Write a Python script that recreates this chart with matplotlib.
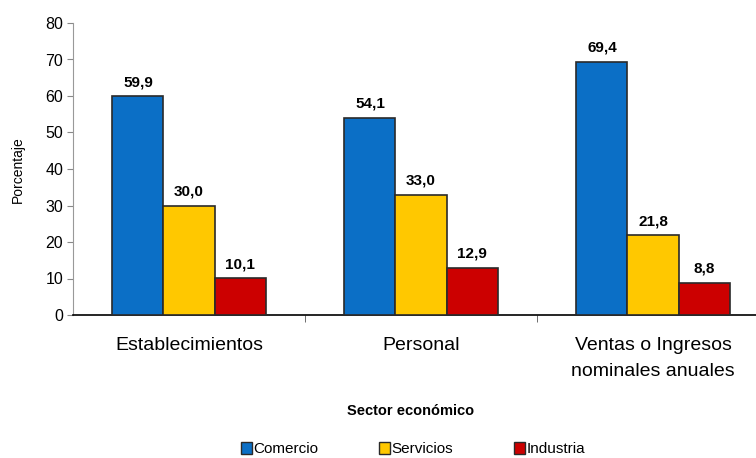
import numpy as np
import matplotlib.pyplot as plt
from matplotlib.patches import Patch

plt.rcParams['font.family'] = ['Liberation Sans', 'DejaVu Sans']

categorias = ["Establecimientos", "Personal", "Ventas o Ingresos\nnominales anuales"]
series = ["Comercio", "Servicios", "Industria"]
comercio = [59.9, 54.1, 69.4]
servicios = [30.0, 33.0, 21.8]
industria = [10.1, 12.9, 8.8]

colores = ["#0B6FC6", "#FFC800", "#CC0000"]
valores = [comercio, servicios, industria]

fig = plt.figure(figsize=(7.56, 4.58), dpi=100)
ax = fig.add_axes([73 / 756, 143 / 458, 1 - 73 / 756, 292 / 458])

x = np.arange(len(categorias))
w = 0.22
for i, (nombre, vals, c) in enumerate(zip(series, valores, colores)):
    pos = x + (i - 1) * w
    ax.bar(pos, vals, width=w, color=c, edgecolor="#2a2a2a", linewidth=1.2,
           label=nombre, zorder=3)
    for xb, v in zip(pos, vals):
        ax.annotate(f"{v:.1f}".replace(".", ","), (xb, v), xytext=(0, 5),
                    textcoords="offset points", ha="center", va="bottom",
                    fontsize=11, fontweight="bold")

ax.set_ylim(0, 80)
ax.set_yticks(range(0, 81, 10))
ax.set_xlim(-0.5, 2.5 - 13 / 232)
ax.set_xticks(x)
ax.set_xticklabels(categorias, fontsize=14, linespacing=1.7)
ax.tick_params(axis="x", length=0, pad=16)
ax.set_xticks([0.5, 1.5], minor=True)
ax.tick_params(axis="x", which="minor", length=5, color="#555555")
ax.tick_params(axis="y", labelsize=11.5, length=4, color="#888888", pad=3)

for s in ["top", "right"]:
    ax.spines[s].set_visible(False)
ax.spines["left"].set_color("#999999")
ax.spines["bottom"].set_color("black")
ax.spines["bottom"].set_linewidth(1.2)

fig.text(18 / 756, 1 - 170 / 458, "Porcentaje", rotation=90, ha="center", va="center", fontsize=10)
fig.text(411 / 756, 1 - 411 / 458, "Sector económico", ha="center", va="center",
         fontsize=10.5, fontweight="bold")

handles = [Patch(facecolor=c, edgecolor="#2a2a2a", linewidth=1.0) for c in colores]
fig.legend(handles, series, loc="center", bbox_to_anchor=(413 / 756, 1 - 449 / 458),
           ncol=3, frameon=False, fontsize=11, handlelength=0.7, handleheight=0.8,
           handletextpad=0.1, columnspacing=4.0)

fig.savefig("out.png", dpi=100)
